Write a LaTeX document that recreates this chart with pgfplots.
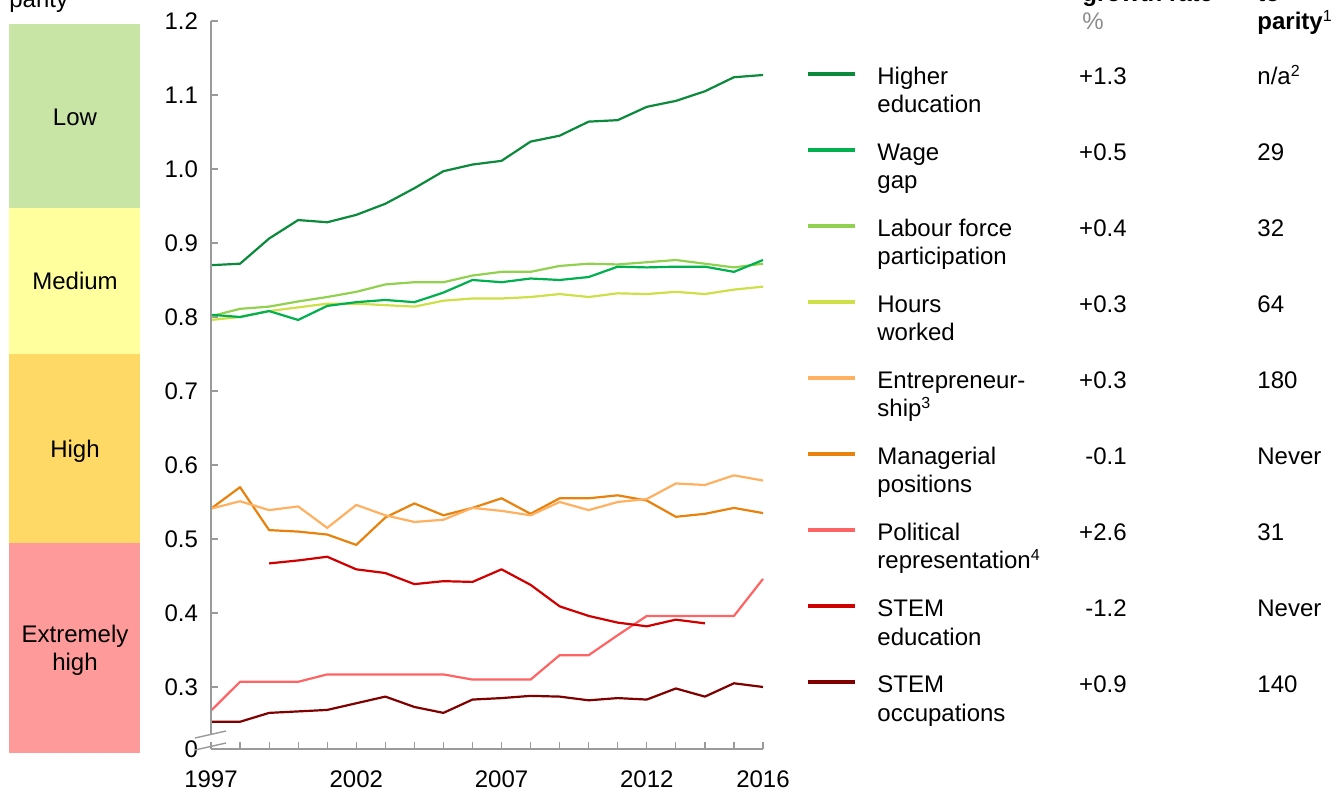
\documentclass[border=0pt]{standalone}
\usepackage{fontspec}
\setmainfont{Liberation Sans}
\usepackage{pgfplots}
\pgfplotsset{compat=1.18}
\definecolor{cHE}{HTML}{0B8A3C}
\definecolor{cWG}{HTML}{00B04F}
\definecolor{cLF}{HTML}{92D050}
\definecolor{cHW}{HTML}{CEDF47}
\definecolor{cEN}{HTML}{FFB061}
\definecolor{cMP}{HTML}{E9820C}
\definecolor{cPR}{HTML}{FF6464}
\definecolor{cSE}{HTML}{D00000}
\definecolor{cSO}{HTML}{800000}
\definecolor{bLow}{HTML}{C8E5A6}
\definecolor{bMed}{HTML}{FFFF9E}
\definecolor{bHigh}{HTML}{FFD966}
\definecolor{bExt}{HTML}{FF9A9A}
\definecolor{axgray}{HTML}{9A9A9A}
\definecolor{hdgray}{HTML}{8C8C8C}
\newcommand\f{\fontsize{12}{14}\selectfont}
\newcommand\legrow[6]{%
  \draw[#2, line width=1.7pt] (808,#1-3) -- (855,#1-3);
  \node[anchor=base west] at (877,#1+8) {#3};
  \node[anchor=base west] at (877,#1+36) {#4};
  \node[anchor=base east] at (1127,#1+8) {#5};
  \node[anchor=base west] at (1257,#1+8) {#6};
}
\begin{document}
\begin{tikzpicture}
\useasboundingbox (0,0) rectangle (668.5pt,396pt);
\clip (0,0) rectangle (668.5pt,396pt);
\begin{scope}[x=0.5pt,y=-0.5pt,shift={(0pt,396pt)},every node/.style={inner sep=0pt,font=\f}]
  \fill[bLow] (9,24) rectangle (140,208);
  \fill[bMed] (9,208) rectangle (140,354);
  \fill[bHigh] (9,354) rectangle (140,543);
  \fill[bExt] (9,543) rectangle (140,753);
  \node at (75,117) {Low};
  \node at (75,281) {Medium};
  \node at (75,451) {High};
  \node at (75,636) {Extremely};
  \node at (75,664) {high};
  \node[anchor=base west] at (9,8) {parity};
  \node[anchor=base west,font=\f\bfseries] at (1082,2) {growth rate};
  \node[anchor=base west,text=hdgray] at (1082,30) {\%};
  \node[anchor=base west,font=\f\bfseries] at (1257,2) {to};
  \node[anchor=base west,font=\f\bfseries] at (1257,30) {parity\textsuperscript{\mdseries 1}};
  \legrow{77}{cHE}{Higher}{education}{+1.3}{n/a\textsuperscript{2}}
  \legrow{153}{cWG}{Wage}{gap}{+0.5}{29}
  \legrow{229}{cLF}{Labour force}{participation}{+0.4}{32}
  \legrow{305}{cHW}{Hours}{worked}{+0.3}{64}
  \legrow{381}{cEN}{Entrepreneur-}{ship\textsuperscript{3}}{+0.3}{180}
  \legrow{457}{cMP}{Managerial}{positions}{-0.1}{Never}
  \legrow{533}{cPR}{Political}{representation\textsuperscript{4}}{+2.6}{31}
  \legrow{609}{cSE}{STEM}{education}{-1.2}{Never}
  \legrow{685}{cSO}{STEM}{occupations}{+0.9}{140}
\end{scope}
\begin{axis}[
  at={(105.5pt,21.5pt)}, anchor=south west,
  scale only axis, width=276pt, height=364pt,
  xmin=1997, xmax=2016, ymin=0.2162, ymax=1.2,
  axis x line*=bottom, axis y line*=left,
  axis line style={draw=axgray, line width=0.7pt, -},
  y axis line style={draw=none},
  tick align=inside, major tick length=3.4pt,
  tick style={draw=axgray, line width=0.6pt},
  xtick={1997,1998,...,2016},
  xticklabels={1997,,,,,2002,,,,,2007,,,,,2012,,,,2016},
  ytick={0.2162,0.3,0.4,0.5,0.6,0.7,0.8,0.9,1.0,1.1,1.2},
  yticklabels={0,0.3,0.4,0.5,0.6,0.7,0.8,0.9,1.0,1.1,1.2},
  ticklabel style={font=\f},
  /pgf/number format/assume math mode=true,
  xticklabel style={yshift=-7.4pt},
  yticklabel style={xshift=-3pt},
  clip=false,
  every axis plot/.append style={line width=1.1pt, mark=none, line join=round},
]
\addplot[cSO] coordinates {(1997,0.253)(1998,0.253)(1999,0.265)(2000,0.267)(2001,0.269)(2002,0.278)(2003,0.287)(2004,0.273)(2005,0.265)(2006,0.283)(2007,0.285)(2008,0.288)(2009,0.287)(2010,0.282)(2011,0.285)(2012,0.283)(2013,0.298)(2014,0.287)(2015,0.305)(2016,0.300)};
\addplot[cPR] coordinates {(1997,0.268)(1998,0.307)(1999,0.307)(2000,0.307)(2001,0.317)(2002,0.317)(2003,0.317)(2004,0.317)(2005,0.317)(2006,0.310)(2007,0.310)(2008,0.310)(2009,0.343)(2010,0.343)(2011,0.370)(2012,0.396)(2013,0.396)(2014,0.396)(2015,0.396)(2016,0.446)};
\addplot[cSE] coordinates {(1999,0.467)(2000,0.471)(2001,0.476)(2002,0.459)(2003,0.454)(2004,0.439)(2005,0.443)(2006,0.442)(2007,0.459)(2008,0.438)(2009,0.409)(2010,0.396)(2011,0.387)(2012,0.382)(2013,0.391)(2014,0.386)};
\addplot[cMP] coordinates {(1997,0.541)(1998,0.570)(1999,0.512)(2000,0.510)(2001,0.506)(2002,0.492)(2003,0.529)(2004,0.548)(2005,0.532)(2006,0.542)(2007,0.555)(2008,0.534)(2009,0.555)(2010,0.555)(2011,0.559)(2012,0.552)(2013,0.530)(2014,0.534)(2015,0.542)(2016,0.535)};
\addplot[cEN] coordinates {(1997,0.541)(1998,0.551)(1999,0.539)(2000,0.544)(2001,0.515)(2002,0.546)(2003,0.532)(2004,0.523)(2005,0.526)(2006,0.542)(2007,0.538)(2008,0.532)(2009,0.550)(2010,0.539)(2011,0.550)(2012,0.554)(2013,0.575)(2014,0.573)(2015,0.586)(2016,0.579)};
\addplot[cHW] coordinates {(1997,0.796)(1998,0.800)(1999,0.808)(2000,0.813)(2001,0.818)(2002,0.818)(2003,0.816)(2004,0.814)(2005,0.822)(2006,0.825)(2007,0.825)(2008,0.827)(2009,0.831)(2010,0.827)(2011,0.832)(2012,0.831)(2013,0.834)(2014,0.831)(2015,0.837)(2016,0.841)};
\addplot[cLF] coordinates {(1997,0.801)(1998,0.811)(1999,0.814)(2000,0.821)(2001,0.827)(2002,0.834)(2003,0.844)(2004,0.847)(2005,0.847)(2006,0.856)(2007,0.861)(2008,0.861)(2009,0.869)(2010,0.872)(2011,0.871)(2012,0.874)(2013,0.877)(2014,0.872)(2015,0.867)(2016,0.872)};
\addplot[cWG] coordinates {(1997,0.803)(1998,0.800)(1999,0.808)(2000,0.796)(2001,0.815)(2002,0.820)(2003,0.823)(2004,0.820)(2005,0.833)(2006,0.850)(2007,0.847)(2008,0.852)(2009,0.850)(2010,0.854)(2011,0.868)(2012,0.867)(2013,0.868)(2014,0.868)(2015,0.861)(2016,0.877)};
\addplot[cHE] coordinates {(1997,0.870)(1998,0.872)(1999,0.906)(2000,0.931)(2001,0.928)(2002,0.938)(2003,0.953)(2004,0.974)(2005,0.997)(2006,1.006)(2007,1.011)(2008,1.037)(2009,1.045)(2010,1.064)(2011,1.066)(2012,1.084)(2013,1.092)(2014,1.105)(2015,1.124)(2016,1.127)};
\end{axis}
\begin{scope}[x=0.5pt,y=-0.5pt,shift={(0pt,396pt)}]
  \draw[axgray, line width=0.7pt] (211,21) -- (211,734.5);
  \draw[axgray, line width=0.7pt] (211,745.5) -- (211,749);
  \draw[axgray, line width=0.7pt] (195,738) -- (226,731);
  \draw[axgray, line width=0.7pt] (195,750) -- (226,743);
\end{scope}
\end{tikzpicture}
\end{document}
